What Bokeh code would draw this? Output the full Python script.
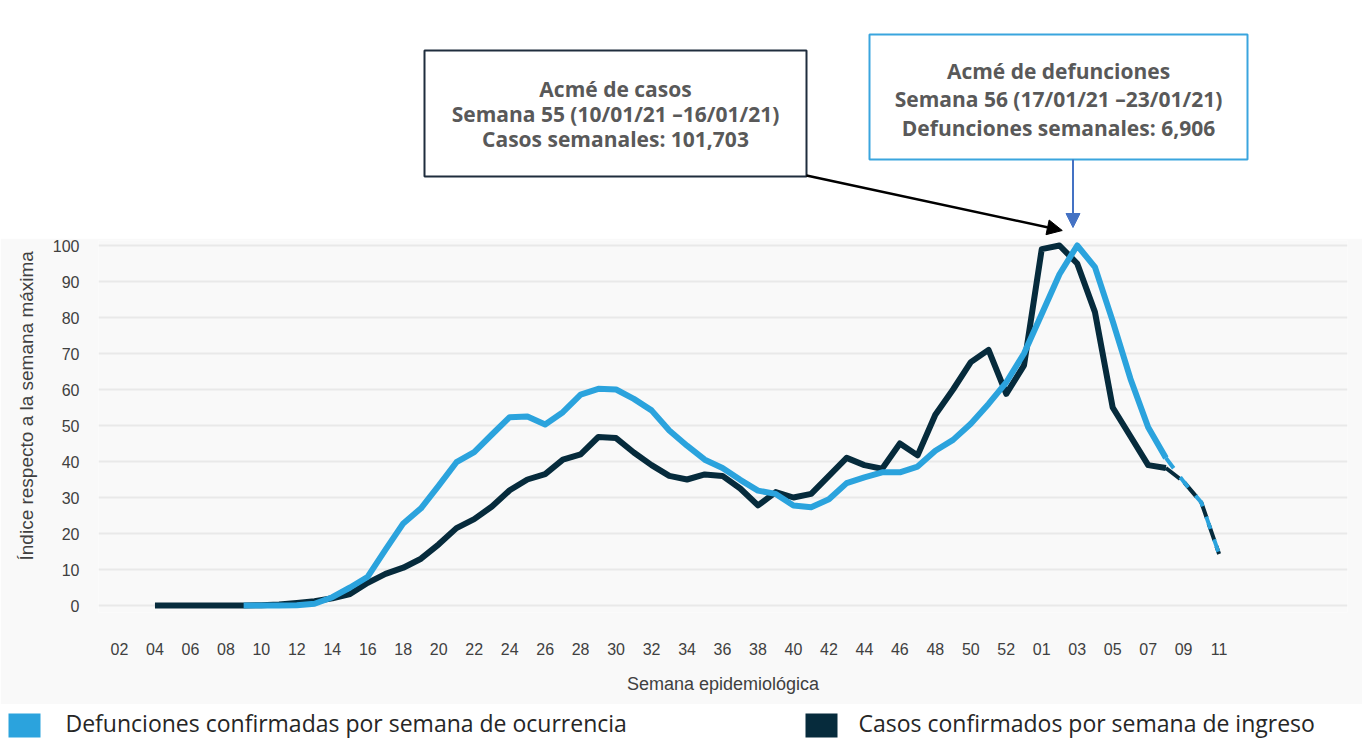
from bokeh.plotting import figure
from bokeh.layouts import column
from bokeh.models import Range1d, FixedTicker, Arrow, NormalHead, Title
from bokeh.core.properties import value
from bokeh.embed import file_html
from bokeh.resources import INLINE

# ---------------- data ----------------
# x index: 2020 weeks 2..53 -> 2..53 ; 2021 weeks 1..11 -> 54..64
tick_positions = list(range(2, 65, 2))
tick_labels = ["02", "04", "06", "08", "10", "12", "14", "16", "18", "20", "22", "24",
               "26", "28", "30", "32", "34", "36", "38", "40", "42", "44", "46", "48",
               "50", "52", "01", "03", "05", "07", "09", "11"]

casos_semanas = list(range(4, 62))
casos_indice = [0, 0, 0, 0, 0, 0,
                0.1, 0.3, 0.7, 1.2, 2, 3.2, 6.3, 8.8, 10.5, 13,
                17, 21.5, 24, 27.5, 32, 35, 36.5, 40.5, 42, 46.8,
                46.5, 42.5, 39, 36, 35, 36.4, 36, 32.5, 27.8, 31.5,
                30, 31, 36, 41, 39, 38, 45, 41.7, 53, 60,
                67.6, 71, 58.8, 66.7, 99, 100, 95, 81.5, 55, 47,
                39, 38.2]

def_semanas = list(range(9, 62))
def_indice = [0, 0, 0, 0.1, 0.5, 2.3, 5, 8, 15.5, 22.8,
              27, 33.3, 39.8, 42.6, 47.5, 52.3, 52.5, 50.3, 53.7, 58.6,
              60.2, 60, 57.4, 54.2, 48.6, 44.4, 40.5, 38.2, 34.9, 31.9,
              31, 27.8, 27.3, 29.5, 34, 35.6, 37, 37, 38.6, 43,
              46, 50.5, 56, 62, 70, 81, 92, 100, 94, 79,
              63, 49.5, 41]

tail_semanas = [61, 62, 63, 64]
tail_casos = [38.2, 34.4, 28.6, 14.3]
tail_def = [41, 34.4, 28.6, 14.3]

serie_nombres = ["Defunciones confirmadas por semana de ocurrencia",
                 "Casos confirmados por semana de ingreso"]

nota_casos = ["Acmé de casos",
              "Semana 55 (10/01/21 –16/01/21)",
              "Casos semanales: 101,703"]
nota_def = ["Acmé de defunciones",
            "Semana 56 (17/01/21 –23/01/21)",
            "Defunciones semanales: 6,906"]

# ---------------- style / layout ----------------
DARK = "#062b3c"
BLUE = "#2ba3dd"
GRAY_BG = "#f9f9f9"
TXT = "#404040"

PAGE_W = 1362
TOP_H, CHART_H, LEG_H = 238, 466, 34
BL, BR, BT, BB = 97, 15, 2, 92
PX_PER_WEEK = 17.75
PX_PER_UNIT = 3.6
FRAME_W = PAGE_W - BL - BR
FRAME_H = CHART_H - BT - BB
X_START = 2 - 21 / PX_PER_WEEK
X_END = X_START + FRAME_W / PX_PER_WEEK
Y_START = -7 / PX_PER_UNIT
Y_END = Y_START + FRAME_H / PX_PER_UNIT


def page_x(week):
    return BL + (week - X_START) * PX_PER_WEEK


# ---------------- chart ----------------
p = figure(width=PAGE_W, height=CHART_H, output_backend="svg", toolbar_location=None,
           x_range=Range1d(X_START, X_END), y_range=Range1d(Y_START, Y_END),
           min_border_left=BL, min_border_right=BR, min_border_top=BT, min_border_bottom=BB)
p.background_fill_color = GRAY_BG
p.border_fill_color = GRAY_BG
p.outline_line_color = None

p.xgrid.grid_line_color = None
p.ygrid.grid_line_color = "#e9e9e9"
p.ygrid.grid_line_width = 2

p.yaxis.ticker = FixedTicker(ticks=list(range(0, 101, 10)))
p.xaxis.ticker = FixedTicker(ticks=tick_positions)
p.xaxis.major_label_overrides = {k: v for k, v in zip(tick_positions, tick_labels)}
for ax in (p.xaxis[0], p.yaxis[0]):
    ax.axis_line_color = None
    ax.major_tick_line_color = None
    ax.minor_tick_line_color = None
    ax.major_tick_out = 0
    ax.major_label_text_font = "Liberation Sans"
    ax.major_label_text_font_size = "16px"
    ax.major_label_text_color = TXT
p.yaxis.major_label_standoff = 19
p.xaxis.major_label_standoff = 30
p.xaxis.axis_label = "Semana epidemiológica"
p.xaxis.axis_label_text_font = "Liberation Sans"
p.xaxis.axis_label_text_font_style = "normal"
p.xaxis.axis_label_text_font_size = "18px"
p.xaxis.axis_label_text_color = TXT
p.xaxis.axis_label_standoff = 16

p.add_layout(Title(text="Índice respecto a la semana máxima", align="left",
                   offset=52, standoff=26, text_font="Liberation Sans",
                   text_font_style="normal", text_font_size="19px",
                   text_color=TXT), "left")

# dashed tails (preliminary weeks)
p.line(tail_semanas, tail_casos, line_color=DARK, line_width=4, line_dash="18 6")
p.line(tail_semanas, tail_def, line_color=BLUE, line_width=4, line_dash="13 11")
# solid series
p.line(casos_semanas, casos_indice, line_color=DARK, line_width=6, line_join="round")
p.line(def_semanas, def_indice, line_color=BLUE, line_width=6, line_join="round")

# ---------------- annotations (top) ----------------
# same side borders as the chart so that the frames line up; coordinates in page px
top = figure(width=PAGE_W, height=TOP_H, output_backend="svg", toolbar_location=None,
             x_range=Range1d(BL, PAGE_W - BR), y_range=Range1d(TOP_H, 0),
             min_border_left=BL, min_border_right=BR, min_border_top=0, min_border_bottom=0,
             x_axis_type=None, y_axis_type=None)
top.grid.visible = False
top.outline_line_color = None
top.background_fill_color = "white"
top.border_fill_color = "white"

top.quad(left=[424], right=[806], top=[50], bottom=[176], fill_color="white",
         line_color="#1f2d3d", line_width=2)
top.quad(left=[869], right=[1247], top=[34], bottom=[159], fill_color="white",
         line_color="#3aa5de", line_width=2)

top.text(x=[615] * 3, y=[88, 113, 138], text=nota_casos, text_align="center",
         text_baseline="middle", text_font=value("Open Sans"), text_font_style="bold",
         text_font_size="21px", text_color="#595959")
top.text(x=[1058] * 3, y=[70, 98, 127], text=nota_def, text_align="center",
         text_baseline="middle", text_font=value("Open Sans"), text_font_style="bold",
         text_font_size="21px", text_color="#595959")

pk_casos = casos_semanas[casos_indice.index(max(casos_indice))]
pk_def = def_semanas[def_indice.index(max(def_indice))]

top.add_layout(Arrow(end=NormalHead(size=15, fill_color="black", line_color="black"),
                     x_start=806, y_start=175, x_end=page_x(pk_casos) + 3, y_end=230,
                     line_color="black", line_width=2.5))
ax2 = page_x(pk_def) - 4
top.add_layout(Arrow(end=NormalHead(size=14, fill_color="#4472c4", line_color="#4472c4"),
                     x_start=ax2, y_start=159, x_end=ax2, y_end=227,
                     line_color="#4472c4", line_width=2))

# ---------------- legend (bottom) ----------------
leg_top = TOP_H + CHART_H
leg = figure(width=PAGE_W, height=LEG_H, output_backend="svg", toolbar_location=None,
             x_range=Range1d(0, PAGE_W), y_range=Range1d(leg_top + LEG_H, leg_top),
             min_border=0, x_axis_type=None, y_axis_type=None)
leg.grid.visible = False
leg.outline_line_color = None
leg.background_fill_color = "white"
leg.border_fill_color = "white"
leg.quad(left=[8, 805], right=[40, 837], top=[leg_top + 9, leg_top + 9],
         bottom=[leg_top + 33, leg_top + 33], fill_color=[BLUE, DARK], line_color=None)
leg.text(x=[65, 858], y=[leg_top + 18, leg_top + 18], text=serie_nombres,
         text_align="left", text_baseline="middle", text_font=value("Open Sans"),
         text_font_size="23px", text_color="#262626")

layout = column(column(top), p, column(leg), spacing=0)
open("out.html", "w").write(file_html(layout, INLINE))
